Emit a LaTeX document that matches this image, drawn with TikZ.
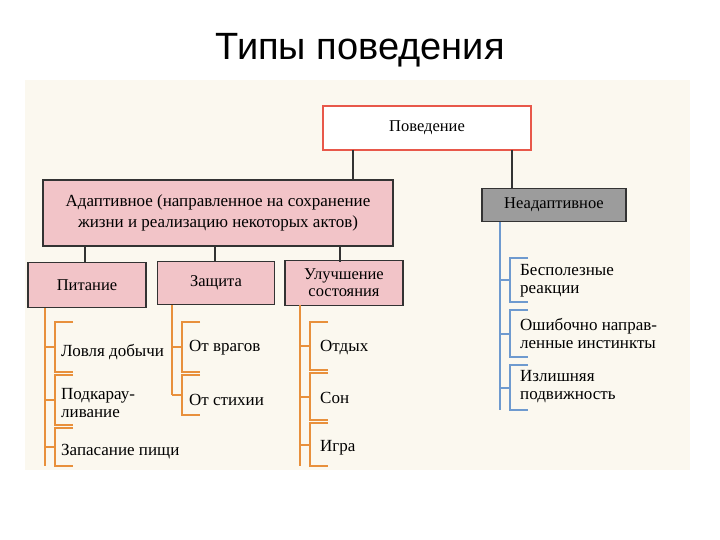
\documentclass[tikz,border=0pt]{standalone}
\usepackage{fontspec}
\setmainfont{Liberation Serif}
\newfontfamily\titlefont{Liberation Sans}
\definecolor{pinkf}{HTML}{F2C4C8}
\definecolor{redb}{HTML}{E8584A}
\definecolor{orl}{HTML}{E8903C}
\definecolor{bll}{HTML}{6E9ACF}
\definecolor{grayf}{HTML}{9C9C9C}
\definecolor{bgc}{HTML}{FBF8EF}
\tikzset{
 box/.style={draw=black!80,line width=1.6pt,fill=pinkf,font=\fontsize{16.5}{17}\selectfont,align=center,inner sep=2pt},
 item/.style={anchor=west,font=\fontsize{17}{18}\selectfont,align=left,inner sep=0pt},
 conn/.style={line width=2pt,black!80},
 ob/.style={line width=2pt,orl},
 bb/.style={line width=2pt,bll}
}
\begin{document}
\begin{tikzpicture}[x=1pt,y=-1pt]
\useasboundingbox (0,0) rectangle (720,540);
\fill[white] (0,0) rectangle (720,540);
\fill[bgc] (25,80) rectangle (690,470);
\node[font=\titlefont\fontsize{38}{40}\selectfont] (title) at (360,50) {Типы поведения};
\node[box,fill=white,draw=redb,line width=2.5pt,minimum width=208,minimum height=44] (beh) at (427,128) {Поведение};
\node[box,minimum width=350,minimum height=66,font=\fontsize{17}{21}\selectfont] (ad) at (218,213) {Адаптивное (направленное на сохранение\\жизни и реализацию некоторых актов)};
\node[box,fill=grayf,minimum width=144,minimum height=33] (nad) at (554,205) {Неадаптивное};
\node[box,minimum width=118,minimum height=45] (pit) at (87,285) {Питание};
\node[box,minimum width=117,minimum height=43] (zas) at (216,283) {Защита};
\node[box,minimum width=118,minimum height=45,font=\fontsize{16.5}{17}\selectfont] (ul) at (344,283) {Улучшение\\состояния};
\coordinate (b1) at (353,150); \coordinate (b2) at (512,150);
\draw[conn] (b1) -- (b1 |- ad.north);
\draw[conn] (b2) -- (b2 |- nad.north);
\foreach \x/\n in {85/pit,215/zas,340/ul}{\draw[conn] (\x,247) -- (\x,262);}
\newcommand\brk[5]{%
 \draw[#1] (#2+10+18,#3) -- (#2+10,#3) -- (#2+10,#4) -- (#2+10+18,#4);
 \draw[#1] (#2,{(#3+#4)/2}) -- (#2+10,{(#3+#4)/2});}
\draw[ob] (45,308) -- (45,466);
\brk{ob}{45}{322}{372}{}\brk{ob}{45}{375}{425}{}\brk{ob}{45}{428}{466}{}
\node[item] (i1) at (61,352) {Ловля добычи};
\node[item] (i2) at (61,403) {Подкарау-\\ливание};
\node[item] (i3) at (61,452) {Запасание пищи};
\draw[ob] (172,305) -- (172,395);
\brk{ob}{172}{322}{372}{}\brk{ob}{172}{375}{415}{}
\node[item] (j1) at (189,348) {От врагов};
\node[item] (j2) at (189,400) {От стихии};
\draw[ob] (300,305) -- (300,466);
\brk{ob}{300}{322}{370}{}\brk{ob}{300}{373}{420}{}\brk{ob}{300}{423}{466}{}
\node[item] (k1) at (320,348) {Отдых};
\node[item] (k2) at (320,398) {Сон};
\node[item] (k3) at (320,448) {Игра};
\draw[bb] (500,222) -- (500,410);
\brk{bb}{500}{258}{302}{}\brk{bb}{500}{310}{357}{}\brk{bb}{500}{365}{410}{}
\node[item] (l1) at (520,281) {Бесполезные\\реакции};
\node[item] (l2) at (520,333) {Ошибочно направ-\\ленные инстинкты};
\node[item] (l3) at (520,387) {Излишняя\\подвижность};
\end{tikzpicture}
\end{document}
